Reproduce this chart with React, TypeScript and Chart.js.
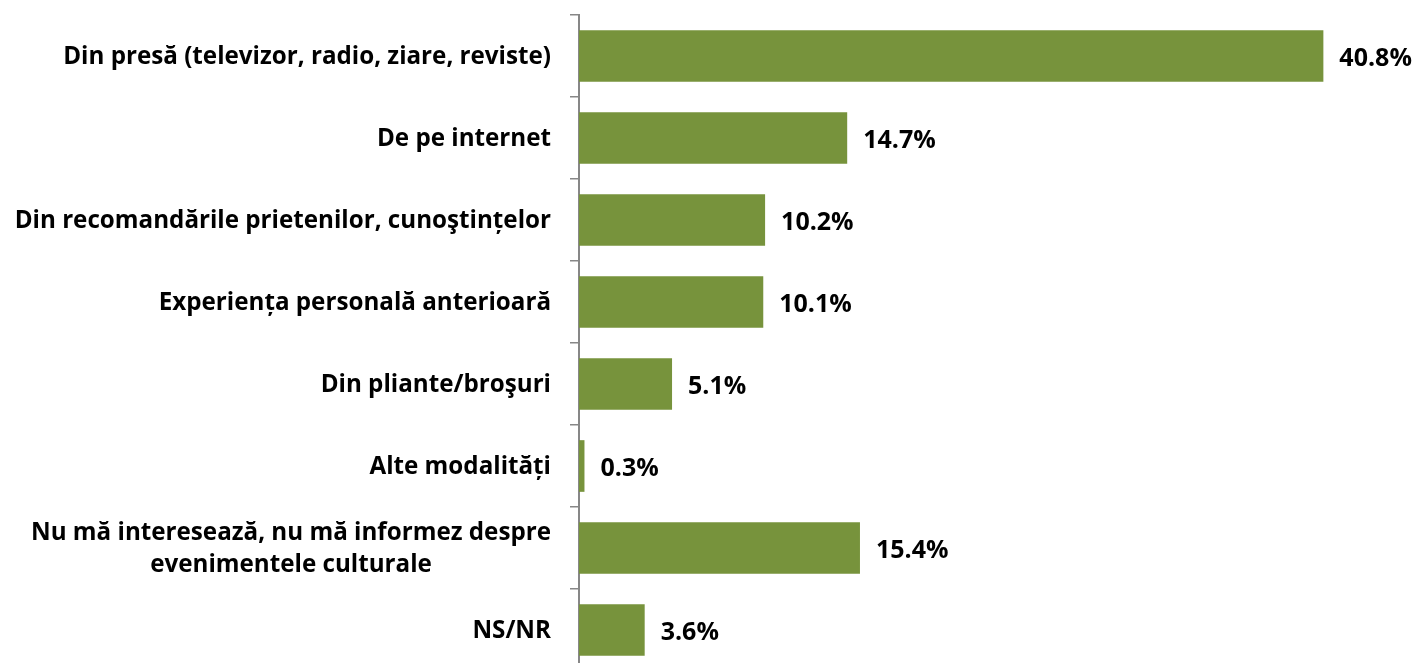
import { useEffect, useRef } from 'react';
import { Chart, registerables } from 'chart.js';
Chart.register(...registerables);

const categories: string[][] = [
  ['Din presă (televizor, radio, ziare, reviste)'],
  ['De pe internet'],
  ['Din recomandările prietenilor, cunoştințelor'],
  ['Experiența personală anterioară'],
  ['Din pliante/broşuri'],
  ['Alte modalități'],
  ['Nu mă interesează, nu mă informez despre', 'evenimentele culturale'],
  ['NS/NR'],
];
const values = [40.8, 14.7, 10.2, 10.1, 5.1, 0.3, 15.4, 3.6];

const FONT_FAMILY = '"Open Sans", "Noto Sans", sans-serif';
const BAR_COLOR = '#77933C';
const AXIS_COLOR = '#878787';

const labelsPlugin = {
  id: 'customLabels',
  afterDraw(chart: any) {
    const ctx = chart.ctx;
    const yScale = chart.scales.y;
    ctx.save();
    ctx.fillStyle = '#000';
    ctx.font = `bold 24.2px ${FONT_FAMILY}`;
    ctx.textBaseline = 'middle';
    ctx.textAlign = 'center';
    const rightEdge = chart.chartArea.left - 28;
    const lineH = 32;
    categories.forEach((lines, i) => {
      const y = yScale.getPixelForValue(i);
      const maxW = Math.max(...lines.map((l) => ctx.measureText(l).width));
      const cx = rightEdge - maxW / 2;
      const startY = y - ((lines.length - 1) * lineH) / 2;
      lines.forEach((l, j) => ctx.fillText(l, cx, startY + j * lineH + 1));
    });
    // value labels
    ctx.font = `bold 25px ${FONT_FAMILY}`;
    ctx.textAlign = 'left';
    const meta = chart.getDatasetMeta(0);
    meta.data.forEach((bar: any, i: number) => {
      ctx.fillText(values[i].toFixed(1) + '%', bar.x + 16, bar.y + 3);
    });
    ctx.restore();
  },
};

export default function App() {
  const ref = useRef<HTMLCanvasElement | null>(null);
  useEffect(() => {
    if (!ref.current) return;
    const chart = new Chart(ref.current, {
      type: 'bar',
      data: {
        labels: categories.map((c) => c.join(' ')),
        datasets: [
          {
            data: values,
            backgroundColor: BAR_COLOR,
            borderWidth: 0,
            barPercentage: 0.63,
            categoryPercentage: 1,
          },
        ],
      },
      options: {
        indexAxis: 'y',
        responsive: false,
        maintainAspectRatio: false,
        animation: false,
        layout: { padding: { top: 15, right: 17, bottom: 0, left: 0 } },
        plugins: { legend: { display: false }, tooltip: { enabled: false } },
        scales: {
          x: { display: false, min: 0, max: 45 },
          y: {
            afterFit: (s: any) => {
              s.width = 579;
            },
            ticks: { display: false },
            grid: {
              offset: true,
              drawOnChartArea: false,
              drawTicks: true,
              tickLength: 9,
              color: AXIS_COLOR,
              lineWidth: 1.5,
            },
            border: { color: AXIS_COLOR, width: 2 },
          },
        },
      },
      plugins: [labelsPlugin],
    });
    return () => chart.destroy();
  }, []);
  return (
    <div style={{ position: 'fixed', left: 0, top: 0, width: 1417, height: 663, overflow: 'hidden', background: '#fff' }}>
      <canvas ref={ref} width={1417} height={671} />
    </div>
  );
}
